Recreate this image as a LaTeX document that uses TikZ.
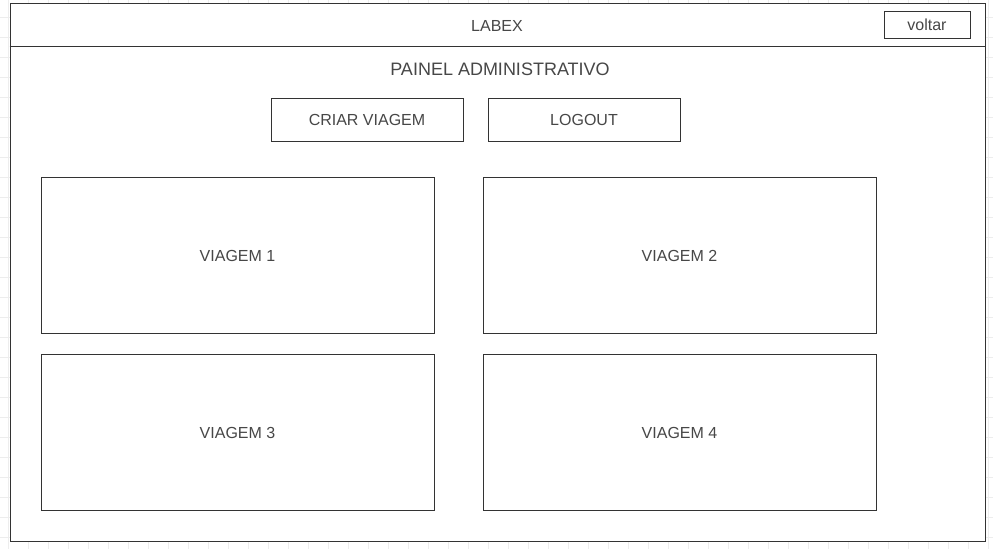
\documentclass[tikz,border=0pt]{standalone}
\usepackage{fontspec}
\setmainfont{Liberation Sans}
\usetikzlibrary{positioning}
\definecolor{linegray}{HTML}{333333}
\definecolor{textgray}{HTML}{474747}
\definecolor{gridgray}{HTML}{EDEDED}
\tikzset{
  panel/.style={draw=linegray, line width=1pt, fill=white, inner sep=0pt},
  btn/.style={panel, text=textgray, font=\fontsize{16}{19}\selectfont},
  card/.style={btn, minimum width=393, minimum height=156},
  label/.style={text=textgray, font=\fontsize{16}{19}\selectfont, inner sep=0pt}
}
\begin{document}
\begin{tikzpicture}[x=1pt,y=-1pt]
  \useasboundingbox (0,0) rectangle (993,549);
  \foreach \x in {8,28,...,988} \draw[gridgray] (\x,0) -- (\x,549); % grid
  \foreach \y in {17,37,...,549} \draw[gridgray] (0,\y) -- (993,\y); % grid
  \node[panel, minimum width=975, minimum height=538] (frame) at (497.5,272) {}; % page frame
  \coordinate (header) at (0,46);
  \draw[linegray, line width=1pt] (frame.west |- header) -- (frame.east |- header); % header line
  \node[label] (labex) at (497,26) {LABEX}; % title
  \node[btn, minimum width=86, minimum height=27] (voltar) at (927,24.5) {voltar}; % back button
  \node[label, font=\fontsize{18}{21}\selectfont] (painel) at (500,69) {PAINEL ADMINISTRATIVO}; % page title
  \node[btn, minimum width=192, minimum height=43] (criar) at (367,119.5) {CRIAR VIAGEM}; % create button
  \node[btn, minimum width=192, minimum height=43, right=24pt of criar] (logout) {LOGOUT}; % logout button
  \node[card] (viagem1) at (237.5,255.5) {VIAGEM 1}; % trip cards
  \node[card, right=48pt of viagem1] (viagem2) {VIAGEM 2};
  \node[card, below=20pt of viagem1] (viagem3) {VIAGEM 3};
  \node[card, below=20pt of viagem2] (viagem4) {VIAGEM 4};
\end{tikzpicture}
\end{document}
